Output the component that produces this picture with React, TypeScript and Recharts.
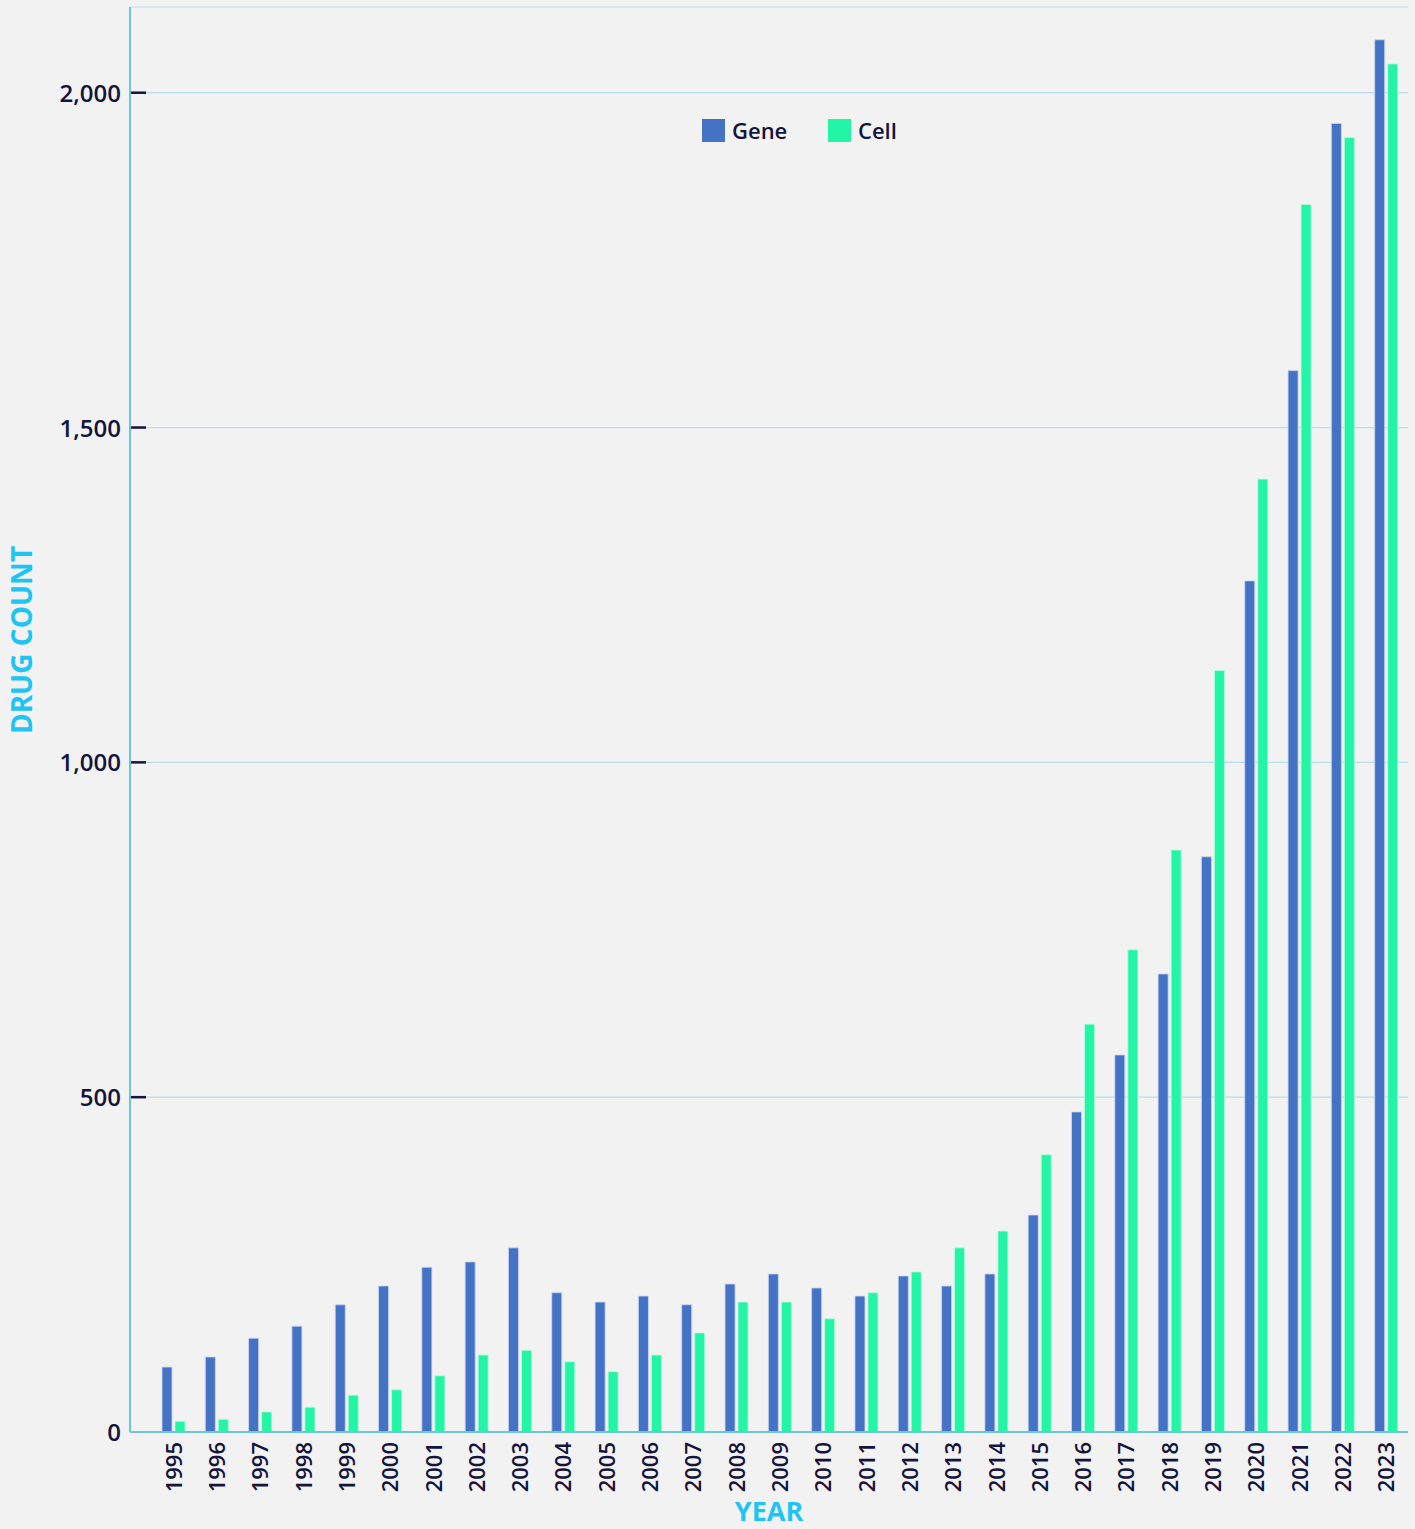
import { BarChart, Bar, XAxis, YAxis, CartesianGrid, Label } from 'recharts';

const YEARS = [
  '1995', '1996', '1997', '1998', '1999', '2000', '2001', '2002', '2003', '2004',
  '2005', '2006', '2007', '2008', '2009', '2010', '2011', '2012', '2013', '2014',
  '2015', '2016', '2017', '2018', '2019', '2020', '2021', '2022', '2023',
];

const GENE = [
  97, 112, 140, 158, 190, 218, 246, 254, 275, 208,
  194, 203, 190, 221, 236, 215, 203, 233, 218, 236,
  324, 478, 563, 684, 859, 1271, 1585, 1954, 2079,
];

const CELL = [
  16, 19, 30, 37, 55, 63, 84, 115, 122, 105,
  90, 115, 148, 194, 194, 169, 208, 239, 275, 300,
  414, 609, 720, 869, 1137, 1423, 1833, 1933, 2043,
];

const Y_TICKS = [0, 500, 1000, 1500, 2000];

const GENE_COLOR = '#4472c4';
const CELL_COLOR = '#22f5a5';
const NAVY = '#14143c';
const CYAN = '#1ec4f2';
const FONT = '"Open Sans", "Noto Sans", sans-serif';

const data = YEARS.map((year, i) => ({ year, gene: GENE[i], cell: CELL[i] }));

function YTick(props: any) {
  const { x, y, payload } = props;
  return (
    <g>
      {payload.value !== 0 && (
        <line x1={x + 1} x2={x + 16} y1={y} y2={y} stroke={NAVY} strokeWidth={2.5} />
      )}
      <text
        x={x - 9}
        y={y}
        dy={9}
        textAnchor="end"
        fill={NAVY}
        fontSize={24}
        fontWeight={600}
        fontFamily={FONT}
      >
        {payload.value.toLocaleString('en-US')}
      </text>
    </g>
  );
}

function XTick(props: any) {
  const { x, y, payload } = props;
  const ty = y + 8;
  return (
    <text
      x={x}
      y={ty}
      dy={8}
      transform={`rotate(-90, ${x}, ${ty})`}
      textAnchor="end"
      fill={NAVY}
      fontSize={22}
      fontWeight={600}
      fontFamily={FONT}
    >
      {payload.value}
    </text>
  );
}

function YearLabel() {
  return (
    <text x={769} y={1521} textAnchor="middle" fill={CYAN} fontSize={27} fontWeight={700} fontFamily={FONT}>
      YEAR
    </text>
  );
}

function CountLabel() {
  return (
    <text
      x={32}
      y={640}
      transform="rotate(-90, 32, 640)"
      textAnchor="middle"
      fill={CYAN}
      fontSize={28}
      fontWeight={700}
      fontFamily={FONT}
    >
      DRUG COUNT
    </text>
  );
}

function LegendBox() {
  const items = [
    { name: 'Gene', color: GENE_COLOR, x: 702 },
    { name: 'Cell', color: CELL_COLOR, x: 828 },
  ];
  return (
    <div style={{ position: 'absolute', left: 0, top: 119, width: 1415, height: 24 }}>
      {items.map((it) => (
        <div
          key={it.name}
          style={{ position: 'absolute', left: it.x, top: 0, display: 'flex', alignItems: 'center' }}
        >
          <span style={{ width: 23, height: 23, background: it.color, display: 'inline-block' }} />
          <span
            style={{
              marginLeft: 7,
              fontFamily: FONT,
              fontWeight: 600,
              fontSize: 22,
              color: NAVY,
              lineHeight: '23px',
            }}
          >
            {it.name}
          </span>
        </div>
      ))}
    </div>
  );
}

export default function App() {
  return (
    <div
      style={{
        position: 'absolute',
        left: 0,
        top: 0,
        width: 1415,
        height: 1529,
        background: '#f2f2f2',
        overflow: 'hidden',
      }}
    >
      <BarChart
        width={1415}
        height={1529}
        data={data}
        margin={{ top: 7, right: 7, bottom: 0, left: 0 }}
        barGap={3}
        barSize={10}
      >
        <CartesianGrid horizontal vertical={false} stroke="#b9dde8" strokeWidth={1.2} />
        <XAxis
          dataKey="year"
          interval={0}
          height={97}
          padding={{ left: 22, right: 0 }}
          tickLine={false}
          tickSize={0}
          tick={<XTick />}
          axisLine={{ stroke: '#6cc6d8', strokeWidth: 2 }}
        >
          <Label content={<YearLabel />} />
        </XAxis>
        <YAxis
          width={130}
          domain={[0, 2128]}
          ticks={Y_TICKS}
          tickLine={false}
          tickSize={0}
          tickMargin={0}
          tick={<YTick />}
          axisLine={{ stroke: '#6cc6d8', strokeWidth: 2 }}
        >
          <Label content={<CountLabel />} />
        </YAxis>
        <Bar dataKey="gene" name="Gene" fill={GENE_COLOR} stroke="#c9d6f0" strokeWidth={0.8} isAnimationActive={false} />
        <Bar dataKey="cell" name="Cell" fill={CELL_COLOR} stroke="#b8fbe0" strokeWidth={0.8} isAnimationActive={false} />
      </BarChart>
      <LegendBox />
    </div>
  );
}
